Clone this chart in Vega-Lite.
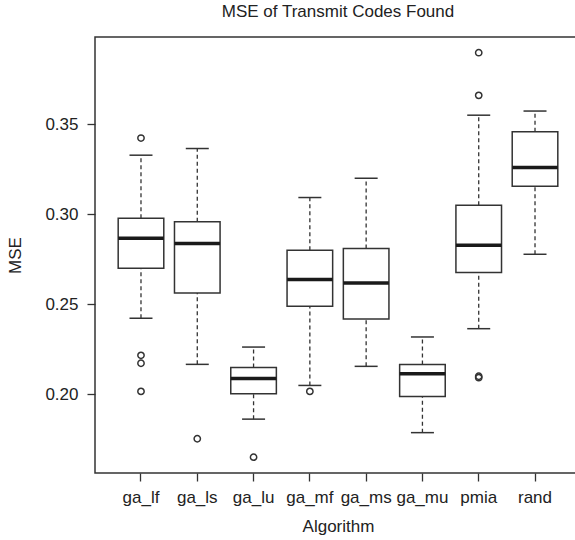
{
  "$schema": "https://vega.github.io/schema/vega-lite/v6.json",
  "autosize": "none",
  "width": 486,
  "height": 436,
  "padding": {"left": 95, "top": 37, "right": 0, "bottom": 67},
  "background": "white",
  "title": {"text": "MSE of Transmit Codes Found", "font": "Liberation Sans", "fontSize": 17, "fontWeight": "normal", "color": "#222", "anchor": "middle", "offset": 3.5, "baseline": "alphabetic"},
  "config": {
    "view": {"stroke": "#333", "strokeWidth": 1.5},
    "axis": {"labelFont": "Liberation Sans", "titleFont": "Liberation Sans", "labelFontSize": 17, "titleFontSize": 17, "titleFontWeight": "normal", "labelColor": "#222", "titleColor": "#222", "tickColor": "#333", "tickWidth": 1.3, "tickSize": 8, "domain": false, "grid": false}
  },
  "datasets": {
    "stats": [
      {"algo": "ga_lf", "lo": 0.2422, "q1": 0.2699, "med": 0.2866, "q3": 0.2977, "hi": 0.3327},
      {"algo": "ga_ls", "lo": 0.2166, "q1": 0.2562, "med": 0.2837, "q3": 0.2957, "hi": 0.3364},
      {"algo": "ga_lu", "lo": 0.1862, "q1": 0.2003, "med": 0.2088, "q3": 0.2148, "hi": 0.2262},
      {"algo": "ga_mf", "lo": 0.2049, "q1": 0.2488, "med": 0.2637, "q3": 0.2799, "hi": 0.3092},
      {"algo": "ga_ms", "lo": 0.2155, "q1": 0.2418, "med": 0.2618, "q3": 0.2809, "hi": 0.3199},
      {"algo": "ga_mu", "lo": 0.1787, "q1": 0.1988, "med": 0.2114, "q3": 0.2165, "hi": 0.2318},
      {"algo": "pmia", "lo": 0.2364, "q1": 0.2676, "med": 0.2827, "q3": 0.3049, "hi": 0.3549},
      {"algo": "rand", "lo": 0.2777, "q1": 0.3155, "med": 0.3259, "q3": 0.3457, "hi": 0.3572}
    ],
    "outliers": [
      {"algo": "ga_lf", "mse": 0.3422},
      {"algo": "ga_lf", "mse": 0.2216},
      {"algo": "ga_lf", "mse": 0.2172},
      {"algo": "ga_lf", "mse": 0.2016},
      {"algo": "ga_ls", "mse": 0.1753},
      {"algo": "ga_lu", "mse": 0.1651},
      {"algo": "ga_mf", "mse": 0.2016},
      {"algo": "pmia", "mse": 0.3896},
      {"algo": "pmia", "mse": 0.3659},
      {"algo": "pmia", "mse": 0.2100},
      {"algo": "pmia", "mse": 0.2092}
    ]
  },
  "encoding": {
    "x": {"field": "algo", "type": "nominal", "sort": null,
      "scale": {"type": "band", "domain": ["ga_lf","ga_ls","ga_lu","ga_mf","ga_ms","ga_mu","pmia","rand"], "paddingInner": 0, "paddingOuter": 0.317},
      "axis": {"title": "Algorithm", "labelAngle": 0, "labelPadding": 8, "titlePadding": 13}}
  },
  "layer": [
    {
      "data": {"name": "stats"},
      "mark": {"type": "rule", "color": "#333", "opacity": 1, "strokeWidth": 1.3, "strokeDash": [4, 3]},
      "encoding": {
        "y": {"field": "lo", "type": "quantitative",
          "scale": {"domain": [0.1563, 0.3983], "nice": false, "zero": false},
          "axis": {"title": "MSE", "values": [0.2, 0.25, 0.3, 0.35], "format": ".2f", "labelPadding": 9, "titlePadding": 20}},
        "y2": {"field": "q1"}
      }
    },
    {
      "data": {"name": "stats"},
      "mark": {"type": "rule", "color": "#333", "opacity": 1, "strokeWidth": 1.3, "strokeDash": [4, 3]},
      "encoding": {
        "y": {"field": "q3", "type": "quantitative"},
        "y2": {"field": "hi"}
      }
    },
    {
      "data": {"name": "stats"},
      "mark": {"type": "tick", "color": "#333", "opacity": 1, "size": 23, "thickness": 1.5},
      "encoding": {"y": {"field": "lo", "type": "quantitative"}}
    },
    {
      "data": {"name": "stats"},
      "mark": {"type": "tick", "color": "#333", "opacity": 1, "size": 23, "thickness": 1.5},
      "encoding": {"y": {"field": "hi", "type": "quantitative"}}
    },
    {
      "data": {"name": "stats"},
      "mark": {"type": "bar", "fill": "white", "stroke": "#333", "opacity": 1, "strokeWidth": 1.5, "width": {"band": 0.81}},
      "encoding": {
        "y": {"field": "q1", "type": "quantitative"},
        "y2": {"field": "q3"}
      }
    },
    {
      "data": {"name": "stats"},
      "mark": {"type": "tick", "color": "#1a1a1a", "opacity": 1, "size": 45.5, "thickness": 3.5},
      "encoding": {"y": {"field": "med", "type": "quantitative"}}
    },
    {
      "data": {"name": "outliers"},
      "mark": {"type": "point", "shape": "circle", "filled": false, "color": "#333", "opacity": 1, "strokeWidth": 1.5, "size": 40},
      "encoding": {"y": {"field": "mse", "type": "quantitative"}}
    }
  ]
}
